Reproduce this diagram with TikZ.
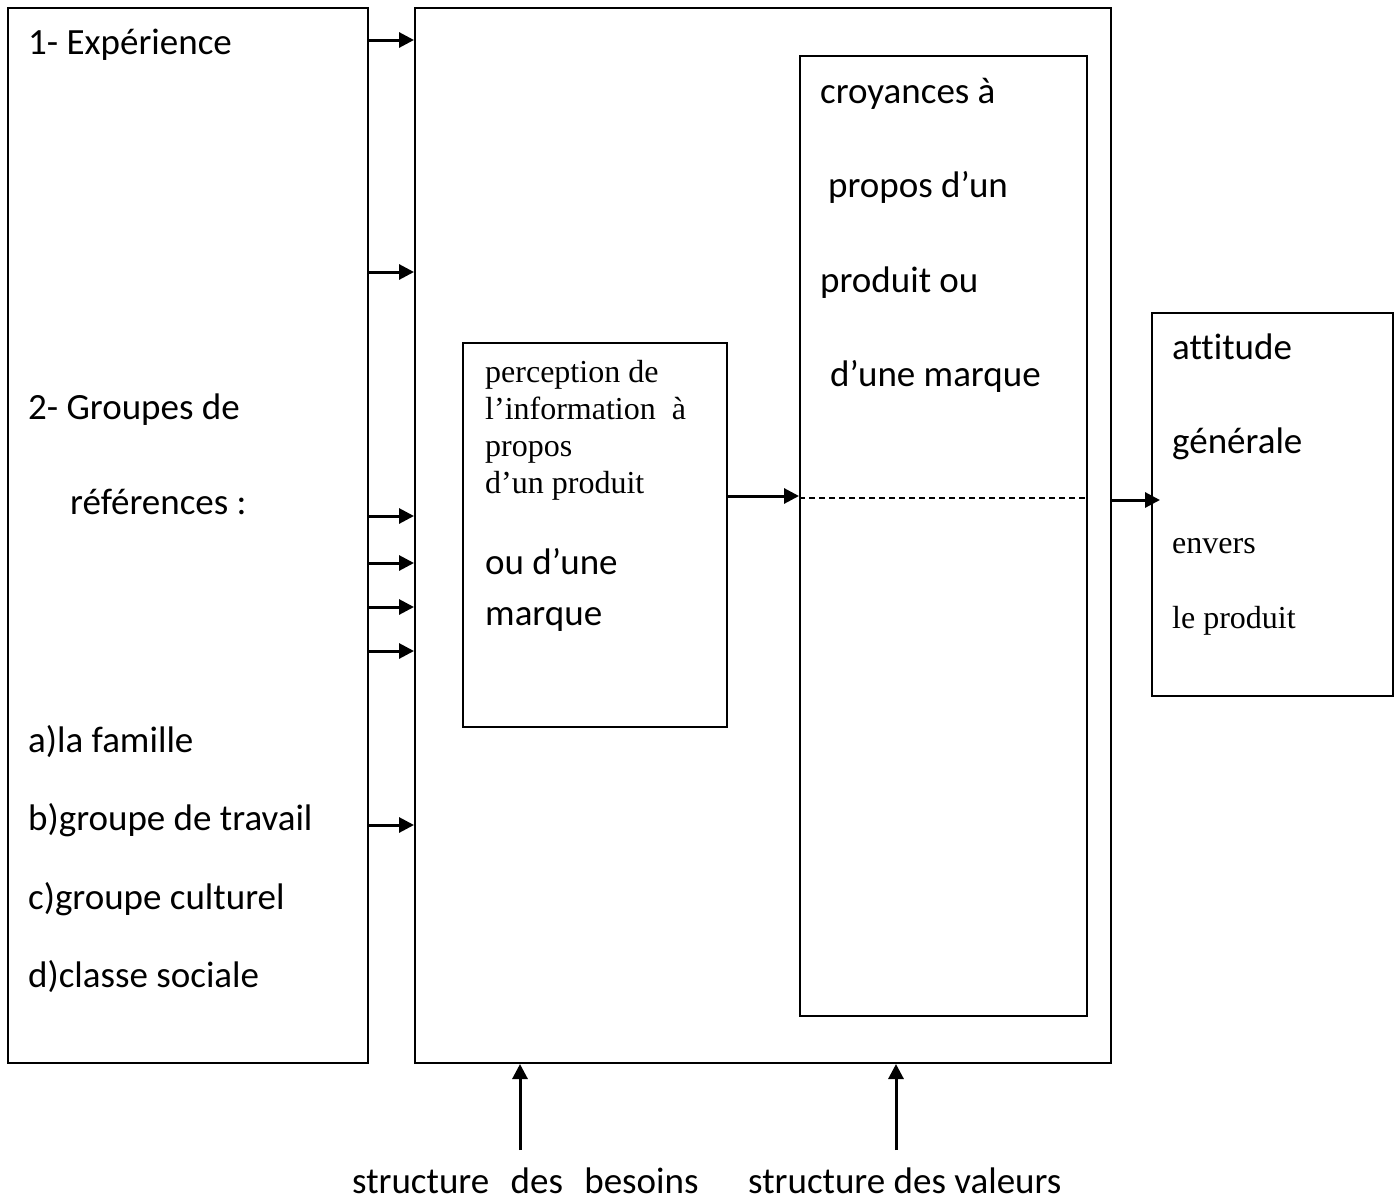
\documentclass[tikz,border=0pt]{standalone}
\usepackage{fontspec}
\setmainfont{Carlito}[Ligatures=NoCommon]
\newfontfamily\tnr{Liberation Serif}
\usetikzlibrary{arrows.meta}
\begin{document}
\begin{tikzpicture}[x=1pt,y=-1pt,
 box/.style={draw, line width=2pt, inner sep=0pt, rectangle},
 arr/.style={line width=3pt, -{Triangle[length=15pt,width=15pt]}},
 cal/.style={anchor=base west, inner sep=0pt, font=\fontsize{37}{44}\selectfont},
 tms/.style={anchor=base west, inner sep=0pt, font=\tnr\fontsize{32}{37}\selectfont},
]
\useasboundingbox (0,0) rectangle (1400,1202);
% boxes
\node[box, minimum width=360pt, minimum height=1055pt] (L) at (188,535.5) {};
\node[box, minimum width=696pt, minimum height=1055pt] (M) at (763,535.5) {};
\node[box, minimum width=264pt, minimum height=384pt] (P) at (595,535) {};
\node[box, minimum width=287pt, minimum height=960pt] (C) at (943.5,536) {};
\node[box, minimum width=241pt, minimum height=383pt] (A) at (1272.5,504.5) {};
% left texts
\node[cal] (t1) at (28,54) {1- Expérience};
\node[cal] (t2) at (28,419) {2- Groupes de};
\node[cal] (t3) at (70,514) {références :};
\node[cal] (t4) at (28,752) {a)la famille};
\node[cal] (t5) at (28,830) {b)groupe de travail};
\node[cal] (t6) at (28,909) {c)groupe culturel};
\node[cal] (t7) at (28,987) {d)classe sociale};
% croyances texts
\node[cal] (c1) at (820,103) {croyances à};
\node[cal] (c2) at (828,197) {propos d’un};
\node[cal] (c3) at (820,292) {produit ou};
\node[cal] (c4) at (830,386) {d’une marque};
% perception texts
\node[tms] (p1) at (485,382) {perception de};
\node[tms] (p2) at (485,419) {l’information\hspace{8pt} à};
\node[tms] (p3) at (485,456) {propos};
\node[tms] (p4) at (485,493) {d’un produit};
\node[cal] (p5) at (485,574) {ou d’une};
\node[cal] (p6) at (485,625) {marque};
% attitude texts
\node[cal] (a1t) at (1172,359) {attitude};
\node[cal] (a2t) at (1172,453) {générale};
\node[tms] (a3t) at (1172,553) {envers};
\node[tms] (a4t) at (1172,628) {le produit};
% bottom texts
\node[cal] (s1) at (352,1193) {structure\hspace{13pt} des\hspace{13pt} besoins};
\node[cal] (s2) at (748,1193) {structure des valeurs};
% arrows left to main
\foreach \yy in {40,272,516,563,607,651,825}{
  \draw[arr] (L.east |- 0,\yy) -- (M.west |- 0,\yy);
}
% perception to croyances
\draw[arr] (P.east |- 0,496) -- (C.west |- 0,496);
\draw[line width=1.3pt, dash pattern=on 6pt off 4pt] (C.west |- 0,498) -- (C.east |- 0,498);
% main to attitude
\coordinate (ae) at (1160,500);
\draw[arr] (M.east |- ae) -- (ae);
% bottom arrows
\coordinate (b1) at (520,1150);
\coordinate (b2) at (896,1150);
\draw[arr] (b1) -- (b1 |- M.south);
\draw[arr] (b2) -- (b2 |- M.south);
\end{tikzpicture}
\end{document}
